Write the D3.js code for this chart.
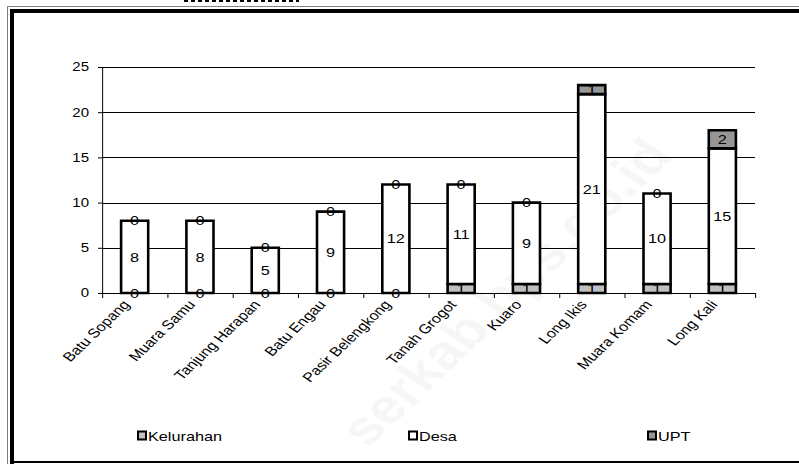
<!DOCTYPE html>
<html><head><meta charset="utf-8">
<script src="https://cdn.jsdelivr.net/npm/d3@7"></script>
<style>body{margin:0;background:#fff}svg{display:block}text{font-family:Arial,"Liberation Sans",sans-serif;fill:#000}</style>
</head><body><script>
const categories=["Batu Sopang","Muara Samu","Tanjung Harapan","Batu Engau","Pasir Belengkong","Tanah Grogot","Kuaro","Long Ikis","Muara Komam","Long Kali"];
const kelurahan=[0,0,0,0,0,1,1,1,1,1];
const desa=[8,8,5,9,12,11,9,21,10,15];
const upt=[0,0,0,0,0,0,0,1,0,2];
const seriesNames=["Kelurahan","Desa","UPT"];
const seriesColors=["#c0c0c0","#ffffff","#969696"];
const yTicks=[0,5,10,15,20,25];

const W=799,H=464,SX=1.25;
const svg=d3.select("body").append("svg").attr("width",W).attr("height",H);

// frame (real coordinates)
svg.append("line").attr("x1",7.5).attr("x2",7.5).attr("y1",6).attr("y2",H).attr("stroke","#808080");
svg.append("line").attr("x1",7).attr("x2",W).attr("y1",6.5).attr("y2",6.5).attr("stroke","#808080");
svg.append("rect").attr("x",10).attr("y",9).attr("width",4).attr("height",H-9).attr("fill","#000");
svg.append("rect").attr("x",10).attr("y",9).attr("width",W-10).attr("height",4).attr("fill","#000");
svg.append("rect").attr("x",10).attr("y",461).attr("width",W-10).attr("height",2).attr("fill","#000");
svg.append("line").attr("x1",184).attr("x2",299).attr("y1",1).attr("y2",1).attr("stroke","#000").attr("stroke-width",2).attr("stroke-dasharray","4,3");

const g=svg.append("g").attr("transform",`scale(${SX},1)`);
const x0=102/SX,x1=755/SX;
const x=d3.scaleBand().domain(categories).range([x0,x1]).padding(0);
const xb=d3.scaleLinear().domain([0,categories.length]).range([x0,x1]);
const y=d3.scaleLinear().domain([0,25]).range([293,67]);

// watermark
g.append("text").attr("transform",`translate(${505/SX},292) rotate(-50)`)
 .attr("text-anchor","middle").attr("dy","0.35em").attr("font-size",48).attr("font-weight","bold")
 .style("fill","#000").attr("fill-opacity",0.035).text("serkab.bps.go.id");

// gridlines
g.append("g").selectAll("line").data(yTicks.filter(t=>t>0)).join("line")
 .attr("x1",x0).attr("x2",x1).attr("y1",d=>Math.round(y(d))+0.5).attr("y2",d=>Math.round(y(d))+0.5)
 .attr("stroke","#000").attr("vector-effect","non-scaling-stroke");

// y axis
const ya=g.append("g").attr("transform",`translate(${x0},0)`)
 .call(d3.axisLeft(y).tickValues(yTicks).tickSize(4/SX).tickSizeOuter(0).tickPadding(9/SX));
ya.selectAll("path,line").attr("stroke","#000").attr("vector-effect","non-scaling-stroke");
ya.selectAll("text").attr("font-size",12).style("font-family","Arial, 'Liberation Sans', sans-serif");

// x axis (ticks at category boundaries)
const xa=g.append("g").attr("transform",`translate(0,${y(0)})`)
 .call(d3.axisBottom(xb).ticks(categories.length).tickSize(5).tickSizeOuter(0).tickFormat(""));
xa.selectAll("path,line").attr("stroke","#000").attr("vector-effect","non-scaling-stroke");

// category labels
g.append("g").selectAll("text").data(categories).join("text")
 .attr("transform",d=>`translate(${x(d)+x.bandwidth()/2-4/SX},${y(0)+12}) rotate(-50)`)
 .attr("text-anchor","end").attr("font-size",13).text(d=>d);

// stacked bars
const rows=categories.map((c,i)=>({cat:c,Kelurahan:kelurahan[i],Desa:desa[i],UPT:upt[i]}));
const stacked=d3.stack().keys(seriesNames)(rows);
const bw=x.bandwidth()*0.415;
const bars=g.append("g");
stacked.forEach((s,si)=>{
  bars.append("g").selectAll("rect").data(s).join("rect")
   .attr("x",d=>x(d.data.cat)+(x.bandwidth()-bw)/2).attr("width",bw)
   .attr("y",d=>y(d[1])).attr("height",d=>y(d[0])-y(d[1]))
   .attr("fill",seriesColors[si]).attr("stroke","#000").attr("stroke-width",2.6)
   .attr("vector-effect","non-scaling-stroke");
});
// labels
stacked.forEach((s,si)=>{
  g.append("g").selectAll("text").data(s).join("text")
   .attr("x",d=>x(d.data.cat)+x.bandwidth()/2)
   .attr("y",d=>(y(d[0])+y(d[1]))/2).attr("dy","0.36em")
   .attr("text-anchor","middle").attr("font-size",13)
   .text(d=>d.data[seriesNames[si]]);
});

// legend
const legX=[137,408,647];
const leg=g.append("g");
seriesNames.forEach((n,i)=>{
  leg.append("rect").attr("x",(legX[i]+1)/SX).attr("y",431.5).attr("width",8/SX).attr("height",8)
   .attr("fill",seriesColors[i]).attr("stroke","#000").attr("stroke-width",2).attr("vector-effect","non-scaling-stroke");
  leg.append("text").attr("x",(legX[i]+11)/SX).attr("y",436).attr("dy","0.36em").attr("font-size",13).text(n);
});
</script></body></html>
